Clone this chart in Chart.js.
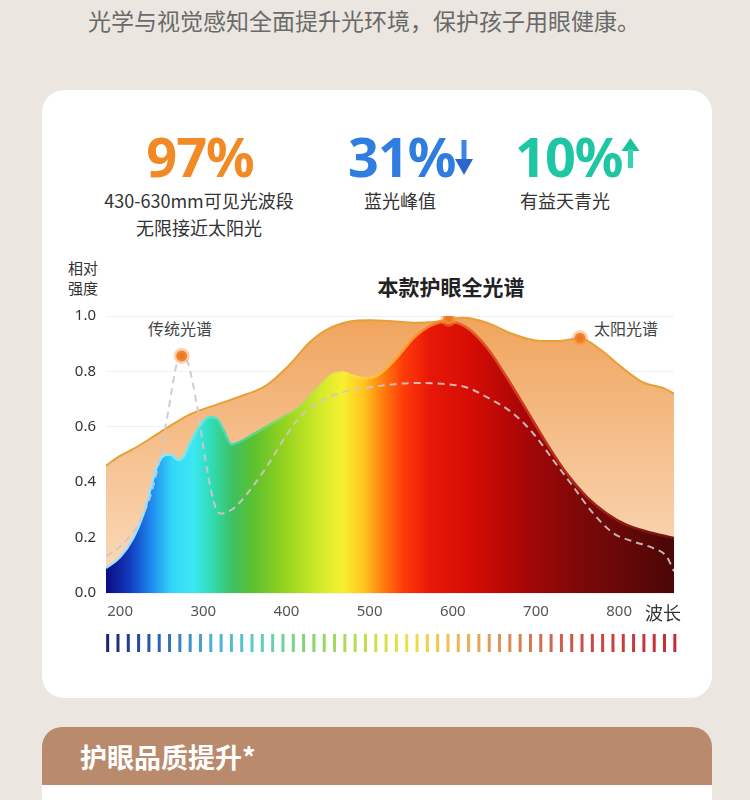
<!DOCTYPE html>
<html lang="zh-CN">
<head>
<meta charset="utf-8">
<title>本款护眼全光谱</title>
<script src="https://cdn.jsdelivr.net/npm/chart.js@4.4.1/dist/chart.umd.min.js"></script>
<style>
  html, body { margin: 0; padding: 0; }
  body {
    width: 750px; height: 800px; position: relative; overflow: hidden;
    background: #ebe6e0;
    font-family: "Noto Sans CJK SC", "Noto Sans", sans-serif; color: #333;
  }
  .t { position: absolute; white-space: nowrap; }
  .intro { left: 88px; top: 4px; font-size: 23px; line-height: 32px; color: #6a6a6a; }
  .card { position: absolute; left: 42px; top: 90px; width: 670px; height: 608px; background: #fff; border-radius: 22px; }
  .num { top: 129px; font-family: "Noto Sans", sans-serif; font-weight: 700; font-size: 54px; line-height: 54px; letter-spacing: -1px; }
  .sub { font-size: 18px; line-height: 26px; width: 220px; text-align: center; color: #333; }
  .axis-name { left: 68px; font-size: 15px; line-height: 20px; color: #333; }
  .note { font-size: 16px; line-height: 22px; top: 317px; color: #444; }
  #wrap { position: absolute; left: 42px; top: 250px; width: 670px; height: 420px; }
  .band { position: absolute; left: 42px; top: 727px; width: 670px; height: 80px; background: #b98a6c; border-radius: 20px 20px 0 0; }
  .band-foot { position: absolute; left: 42px; top: 785px; width: 670px; height: 20px; background: #fff; }
</style>
</head>
<body>
<div class="t intro">光学与视觉感知全面提升光环境，保护孩子用眼健康。</div>
<div class="card"></div>

<div class="t num" style="left:100px;width:200px;text-align:center;color:#f18a24;">97%</div>
<div class="t num" style="left:348px;color:#2f7de1;">31%</div>
<svg class="t" style="left:454px;top:140px" width="20" height="36" viewBox="0 0 20 36">
  <rect x="7.5" y="0" width="5" height="22" fill="#3a86e6"/>
  <polygon points="1,19 19,19 10,35" fill="#2a66cc"/>
</svg>
<div class="t num" style="left:515px;color:#1fc6a3;">10%</div>
<svg class="t" style="left:621px;top:138px" width="19" height="30" viewBox="0 0 19 30">
  <polygon points="9.5,0 18.5,13 0.5,13" fill="#1cc09c"/>
  <rect x="7" y="11" width="5" height="19" fill="#38d3b0"/>
</svg>

<div class="t sub" style="left:89px;top:187px;">430-630mm可见光波段</div>
<div class="t sub" style="left:89px;top:214px;">无限接近太阳光</div>
<div class="t sub" style="left:290px;top:187px;">蓝光峰值</div>
<div class="t sub" style="left:455px;top:187px;">有益天青光</div>

<div class="t axis-name" style="top:258px;">相对</div>
<div class="t axis-name" style="top:278px;">强度</div>
<div class="t" style="left:341px;width:220px;text-align:center;top:272px;font-size:21px;line-height:28px;font-weight:700;color:#222;">本款护眼全光谱</div>
<div class="t note" style="left:148px;">传统光谱</div>
<div class="t note" style="left:594px;">太阳光谱</div>

<div id="wrap"><canvas id="chart" width="670" height="420"></canvas></div>
<div class="t" style="left:645px;top:600px;font-size:18px;line-height:24px;color:#333;">波长</div>

<div class="band"></div>
<div class="band-foot"></div>
<div class="t" style="left:80px;top:739px;font-size:27px;line-height:36px;font-weight:700;color:#fff;">护眼品质提升*</div>

<script>
// wavelength (nm) / relative intensity
const sunWavelength = [183, 200, 216, 248, 284, 316, 340, 376, 404, 428, 448, 476, 500, 532, 553, 577, 595, 613, 641, 673, 705, 729, 753, 777, 801, 829, 853, 866];
const sunIntensity = [0.46, 0.495, 0.52, 0.58, 0.645, 0.68, 0.705, 0.75, 0.825, 0.905, 0.95, 0.98, 0.985, 0.98, 0.976, 0.978, 0.988, 0.994, 0.976, 0.934, 0.91, 0.91, 0.92, 0.88, 0.82, 0.76, 0.74, 0.72];

const lampWavelength = [183, 200, 216, 228, 236, 244, 252, 260, 270, 276, 284, 296, 308, 316, 324, 334, 340, 364, 396, 416, 436, 456, 468, 480, 496, 512, 533, 553, 573, 595, 617, 641, 665, 689, 713, 737, 761, 785, 809, 833, 866];
const lampIntensity = [0.09, 0.13, 0.2, 0.285, 0.37, 0.455, 0.495, 0.5, 0.48, 0.49, 0.54, 0.605, 0.635, 0.63, 0.59, 0.535, 0.54, 0.58, 0.635, 0.67, 0.735, 0.79, 0.796, 0.784, 0.775, 0.79, 0.85, 0.92, 0.964, 0.98, 0.958, 0.886, 0.778, 0.659, 0.539, 0.431, 0.347, 0.287, 0.246, 0.222, 0.198];

const traditionalWavelength = [183, 200, 220, 236, 248, 258, 268, 274, 282, 292, 302, 312, 320, 336, 356, 376, 396, 416, 436, 456, 476, 516, 553, 593, 617, 641, 673, 697, 721, 745, 769, 793, 817, 841, 857, 866];
const traditionalIntensity = [0.132, 0.168, 0.24, 0.347, 0.491, 0.659, 0.826, 0.856, 0.826, 0.683, 0.491, 0.335, 0.287, 0.305, 0.371, 0.455, 0.551, 0.635, 0.683, 0.713, 0.731, 0.749, 0.758, 0.754, 0.742, 0.707, 0.647, 0.575, 0.479, 0.383, 0.287, 0.216, 0.186, 0.162, 0.132, 0.078];

// orange dots: traditional peak, lamp peak, sun marker
const markerWavelength = [274, 595, 753];
const markerIntensity = [0.856, 0.99, 0.92];

const xTickValues = [200, 300, 400, 500, 600, 700, 800];
const xTickLabels = ["200", "300", "400", "500", "600", "700", "800"];
const yTickValues = [0, 0.2, 0.4, 0.6, 0.8, 1.0];
const yTickLabels = ["0.0", "0.2", "0.4", "0.6", "0.8", "1.0"];

const font = "'Noto Sans', 'Noto Sans CJK SC', sans-serif";

// colour stops along the wavelength axis
const lampFillStops = [
  [183, "#0c0c82"], [212, "#123cc0"], [238, "#1f8cf0"], [262, "#33d6f8"], [288, "#3ce8f2"],
  [310, "#30dcb4"], [335, "#3ec062"], [360, "#5cc030"], [400, "#98d41e"], [440, "#d2ea2a"],
  [468, "#f8f030"], [493, "#ffc41e"], [515, "#ff8010"], [540, "#ff3c08"], [572, "#e81808"],
  [625, "#d40c04"], [690, "#a40606"], [760, "#7a0808"], [866, "#4a0606"]
];
const lampLineStops = [
  [183, "#a8dcff"], [250, "#8ee6ff"], [300, "#5ee8e0"], [340, "#40d49a"], [420, "#a8e040"],
  [470, "#f8ec40"], [520, "#ffb030"], [580, "#f4782a"], [700, "#c8301c"], [866, "#6a1010"]
];
const stripeStops = [
  [0, "#1a2470"], [0.08, "#2a5ab0"], [0.18, "#48b0d8"], [0.27, "#5cd0c0"], [0.36, "#88d46c"],
  [0.46, "#c4e04a"], [0.53, "#eee044"], [0.6, "#f0c050"], [0.68, "#e09a58"], [0.76, "#d07050"],
  [0.86, "#cc4444"], [1, "#c42c34"]
];

function spectrumGradient(chart, stops) {
  const area = chart.chartArea;
  if (!area) return null;
  const x = chart.scales.x;
  const g = chart.ctx.createLinearGradient(area.left, 0, area.right, 0);
  stops.forEach(([nm, c]) => {
    const p = (x.getPixelForValue(nm) - area.left) / (area.right - area.left);
    g.addColorStop(Math.min(1, Math.max(0, p)), c);
  });
  return g;
}

function sunGradient(chart) {
  const area = chart.chartArea;
  if (!area) return null;
  const g = chart.ctx.createLinearGradient(0, area.top, 0, area.bottom);
  g.addColorStop(0, "#f0a45c");
  g.addColorStop(0.45, "#f5bf8c");
  g.addColorStop(1, "#fbdcbf");
  return g;
}

function hexToRgb(h) {
  return [1, 3, 5].map((i) => parseInt(h.slice(i, i + 2), 16));
}
function stripeColor(t) {
  for (let i = 1; i < stripeStops.length; i++) {
    const [t1, c1] = stripeStops[i];
    if (t <= t1) {
      const [t0, c0] = stripeStops[i - 1];
      const k = (t - t0) / (t1 - t0);
      const a = hexToRgb(c0), b = hexToRgb(c1);
      return "rgb(" + a.map((v, j) => Math.round(v + (b[j] - v) * k)).join(",") + ")";
    }
  }
  return stripeStops[stripeStops.length - 1][1];
}

// the little coloured tick strip under the wavelength axis
const stripeCount = 56;
const stripePlugin = {
  id: "stripes",
  afterDraw(chart) {
    const { ctx, chartArea, scales } = chart;
    const from = 185, to = 867;
    for (let i = 0; i < stripeCount; i++) {
      const t = i / (stripeCount - 1);
      const px = scales.x.getPixelForValue(from + t * (to - from));
      ctx.fillStyle = stripeColor(t);
      ctx.fillRect(px - 1.5, chartArea.bottom + 41, 3, 18);
    }
  }
};

const pts = (xs, ys) => xs.map((x, i) => ({ x: x, y: ys[i] }));

new Chart(document.getElementById("chart"), {
  type: "line",
  data: {
    datasets: [
      {
        label: "markers",
        data: pts(markerWavelength, markerIntensity),
        showLine: false,
        pointRadius: 5.5,
        pointBackgroundColor: "#f07620",
        pointBorderColor: "rgba(246,150,70,0.45)",
        pointBorderWidth: 5
      },
      {
        label: "传统光谱",
        data: pts(traditionalWavelength, traditionalIntensity),
        borderColor: "rgba(205,200,200,0.9)",
        borderWidth: 2,
        borderDash: [7, 5],
        fill: false,
        cubicInterpolationMode: "monotone"
      },
      {
        label: "本款护眼全光谱",
        data: pts(lampWavelength, lampIntensity),
        borderColor: (c) => spectrumGradient(c.chart, lampLineStops) || "#f07020",
        backgroundColor: (c) => spectrumGradient(c.chart, lampFillStops) || "#e03010",
        borderWidth: 2.5,
        fill: "origin",
        cubicInterpolationMode: "monotone"
      },
      {
        label: "太阳光谱",
        data: pts(sunWavelength, sunIntensity),
        borderColor: "#e6a036",
        backgroundColor: (c) => sunGradient(c.chart) || "#f5bf8c",
        borderWidth: 2,
        fill: "origin",
        cubicInterpolationMode: "monotone"
      }
    ]
  },
  options: {
    responsive: false,
    animation: false,
    layout: { padding: { top: 66, right: 38, left: 0, bottom: 0 } },
    elements: { point: { radius: 0 } },
    plugins: { legend: { display: false }, tooltip: { enabled: false } },
    scales: {
      x: {
        type: "linear",
        min: 183,
        max: 866,
        grid: { display: false, drawTicks: false },
        border: { display: false },
        afterBuildTicks: (s) => { s.ticks = xTickValues.map((v) => ({ value: v })); },
        afterFit: (s) => { s.height = 77; },
        ticks: {
          autoSkip: false,
          maxRotation: 0,
          padding: 10,
          color: "#555",
          font: { size: 15, family: font },
          callback: (v) => xTickLabels[xTickValues.indexOf(v)]
        }
      },
      y: {
        min: 0,
        max: 1,
        grid: { color: "#f0f0f0", drawTicks: false },
        border: { display: false },
        afterBuildTicks: (s) => { s.ticks = yTickValues.map((v) => ({ value: v })); },
        afterFit: (s) => { s.width = 64; },
        ticks: {
          padding: 10,
          color: "#333",
          font: { size: 15, family: font },
          callback: (v) => yTickLabels[yTickValues.indexOf(v)]
        }
      }
    }
  },
  plugins: [stripePlugin]
});
</script>
</body>
</html>
